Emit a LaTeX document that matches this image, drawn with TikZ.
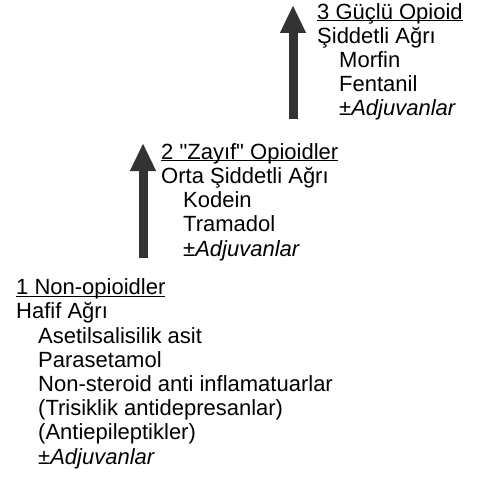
\documentclass[tikz,border=0pt]{standalone}
\usepackage{fontspec}
\setmainfont{Liberation Sans}
\usetikzlibrary{arrows.meta}
\newcommand\ind{\hspace*{22pt}}
\newcommand\hd[1]{\underline{\smash{#1}}}

\begin{document}
\begin{tikzpicture}[
    x=1pt, y=-1pt,
    stage/.style={anchor=base west,align=left,inner sep=0pt,
                  font=\fontsize{22}{24.2}\selectfont},
    ladder/.style={-{Triangle[width=24pt,length=28pt]},line width=9pt,draw=black!80}
]
\path[use as bounding box] (0,0) rectangle (477,484);

% the three steps of the ladder (placed by their last line)
\node[stage] (s1) at (16,464)
    {\hd{1 Non-opioidler}\\Hafif Ağrı\\\ind Asetilsalisilik asit\\\ind Parasetamol\\
     \ind Non-steroid anti inflamatuarlar\\\ind (Trisiklik antidepresanlar)\\
     \ind (Antiepileptikler)\\\ind\textit{±Adjuvanlar}};
\node[stage] (s2) at (161,256)
    {\hd{2 \textquotedbl Zayıf\textquotedbl{} Opioidler}\\Orta Şiddetli Ağrı\\\ind Kodein\\\ind Tramadol\\
     \ind\textit{±Adjuvanlar}};
\node[stage] (s3) at (317,116)
    {\hd{3 Güçlü Opioid}\\Şiddetli Ağrı\\\ind Morfin\\\ind Fentanil\\
     \ind\textit{±Adjuvanlar}};

% arrows between the steps
\coordinate (a2bot) at (143,258);
\coordinate (a2top) at (143,143);
\coordinate (a3bot) at (293,119);
\coordinate (a3top) at (293,5);
\draw[ladder] (a2bot) -- (a2top);
\draw[ladder] (a3bot) -- (a3top);
\end{tikzpicture}
\end{document}
